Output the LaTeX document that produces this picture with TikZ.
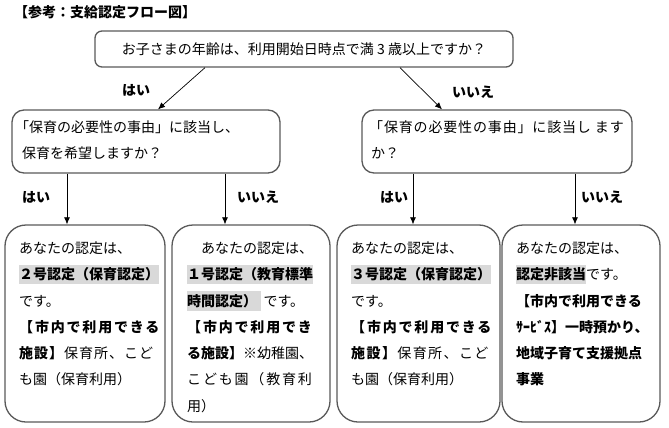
\documentclass[tikz,border=0pt]{standalone}
\usepackage{fontspec}
\setmainfont{Noto Sans CJK JP}
\usetikzlibrary{arrows.meta}
\definecolor{hl}{HTML}{D9D9D9}
\definecolor{bordergray}{HTML}{595959}
\newcommand\hlb[1]{{\setlength{\fboxsep}{0pt}\colorbox{hl}{\rule[-4.5pt]{0pt}{19.5pt}\bfseries #1}}}
\newcommand\lsp[2]{{\addfontfeature{LetterSpace=#1}#2}}
\begin{document}
\begin{tikzpicture}[x=1pt,y=-1pt,
  every node/.style={font=\fontsize{14}{26.3}\selectfont, inner sep=0pt},
  box/.style={draw=bordergray, line width=1.3pt, rectangle},
  txt/.style={align=left, anchor=north west},
  lbl/.style={font=\fontsize{14}{16}\selectfont\bfseries},
  arr/.style={-{Latex[length=7pt,width=6pt]}, line width=0.7pt}]
\useasboundingbox (0,0) rectangle (669,428);
% title
\node[anchor=west, font=\fontsize{14}{16}\selectfont\bfseries] (title) at (14,12) {【参考：支給認定フロー図】};
% top question
\node[box, rounded corners=7pt, minimum width=418pt, minimum height=36pt] (q0) at (304,49) {お子さまの年齢は、利用開始日時点で満 3 歳以上ですか？};
% second level
\node[box, rounded corners=12pt, minimum width=268pt, minimum height=63pt] (q1) at (146,141.5) {};
\node[box, rounded corners=12pt, minimum width=270pt, minimum height=63pt] (q2) at (497,141.5) {};
\node[txt] (q1t) at (15,120) {「保育の必要性の事由」に該当し、\\\hspace*{7pt}保育を希望しますか？};
\node[txt] (q2t) at (369,120) {\lsp{6}{「保育の必要性の事由」に該当し ます}\\\hspace*{2pt}か？};
% bottom boxes
\node[box, rounded corners=21pt, minimum width=160pt, minimum height=197pt] (r1) at (85,323.5) {};
\node[box, rounded corners=21pt, minimum width=158pt, minimum height=197pt] (r2) at (251,323.5) {};
\node[box, rounded corners=21pt, minimum width=163pt, minimum height=197pt] (r3) at (418.5,323.5) {};
\node[box, rounded corners=21pt, minimum width=158pt, minimum height=197pt] (r4) at (581,323.5) {};
\node[txt] (r1t) at (19,241.5) {あなたの認定は、\\
\hlb{２号認定（保育認定）}\\
です。\\
\lsp{13}{\bfseries 【市内で利用できる}\\
\lsp{7}{\textbf{施設】}保育所、こど}\\
も園（保育利用）};
\node[txt] (r2t) at (187,241.5) {　あなたの認定は、\\
\hlb{１号認定（教育標準}\\
\hlb{時間認定）\hspace{4pt}}\,です。\\
\lsp{13}{\bfseries 【市内で利用でき}\\
\textbf{る施設】}※幼稚園、\\
\lsp{13}{こども園（教育利}\\
用）};
\node[txt] (r3t) at (351,241.5) {あなたの認定は、\\
\hlb{３号認定（保育認定）}\\
です。\\
\lsp{13}{\bfseries 【市内で利用できる}\\
\lsp{10}{\textbf{施設】}保育所、こど}\\
も園（保育利用）};
\node[txt] (r4t) at (516,241.5) {あなたの認定は、\\
\hlb{認定非該当}です。\\
\textbf{【市内で利用できる}\\
\textbf{ｻｰﾋﾞｽ】一時預かり、}\\
\textbf{地域子育て支援拠点}\\
\textbf{事業}};
% connector x positions
\coordinate (x1) at (205,0);
\coordinate (x2) at (158,0);
\coordinate (x3) at (400,0);
\coordinate (x4) at (442,0);
\coordinate (y1) at (67,0);
\coordinate (y2) at (225,0);
\coordinate (y3) at (413,0);
\coordinate (y4) at (575,0);
\draw[arr] (q0.south -| x1) -- (q1.north -| x2);
\draw[arr] (q0.south -| x3) -- (q2.north -| x4);
\draw[arr] (q1.south -| y1) -- (r1.north -| y1);
\draw[arr] (q1.south -| y2) -- (r2.north -| y2);
\draw[arr] (q2.south -| y3) -- (r3.north -| y3);
\draw[arr] (q2.south -| y4) -- (r4.north -| y4);
% labels
\node[lbl] (l1) at (136,90) {はい};
\node[lbl] (l2) at (473,92) {いいえ};
\node[lbl] (l3) at (36,197) {はい};
\node[lbl] (l4) at (258,197) {いいえ};
\node[lbl] (l5) at (394,197) {はい};
\node[lbl] (l6) at (602,197) {いいえ};
\end{tikzpicture}
\end{document}
